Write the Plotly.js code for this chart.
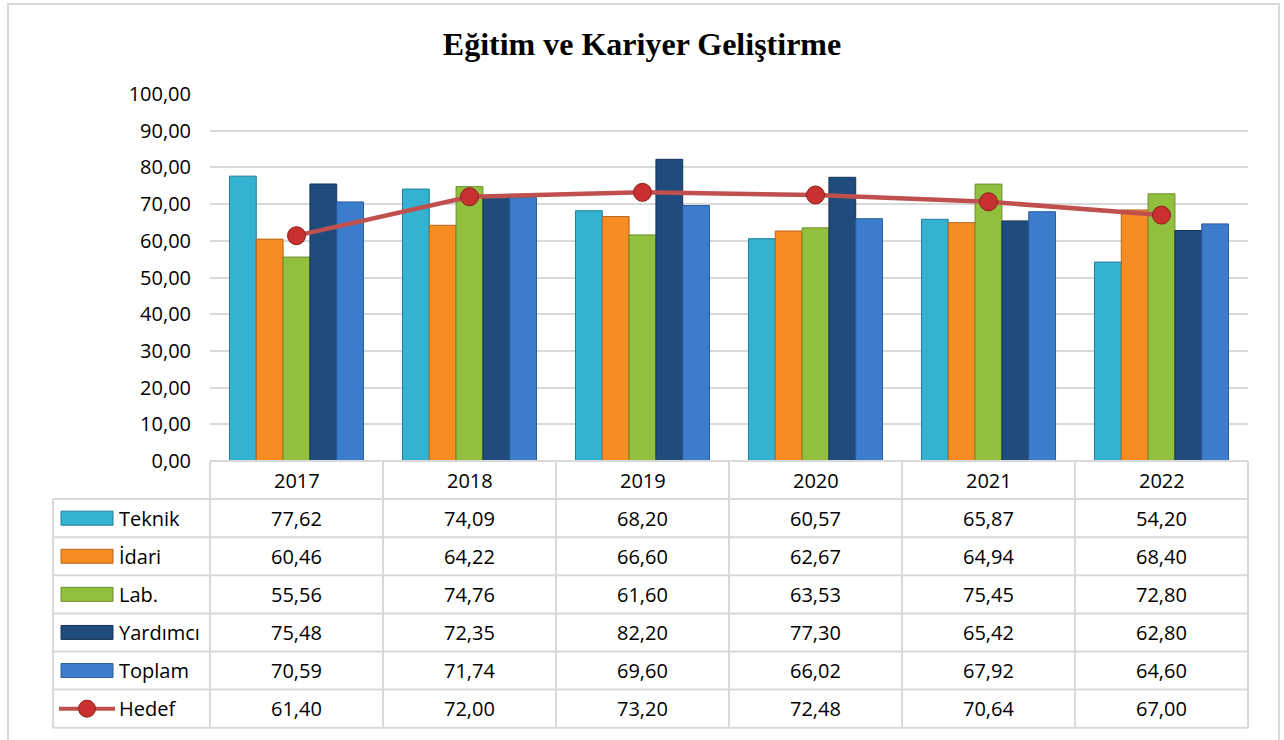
<!DOCTYPE html>
<html>
<head>
<meta charset="utf-8">
<script src="https://cdn.plot.ly/plotly-3.0.1.min.js"></script>
<style>
  body { margin: 0; background: #fff; }
  #chart { width: 1284px; height: 740px; }
</style>
</head>
<body>
<div id="chart"></div>
<script>
const years = ['2017', '2018', '2019', '2020', '2021', '2022']
const teknik = [77.62, 74.09, 68.20, 60.57, 65.87, 54.20]
const idari = [60.46, 64.22, 66.60, 62.67, 64.94, 68.40]
const lab = [55.56, 74.76, 61.60, 63.53, 75.45, 72.80]
const yardimci = [75.48, 72.35, 82.20, 77.30, 65.42, 62.80]
const toplam = [70.59, 71.74, 69.60, 66.02, 67.92, 64.60]
const hedef = [61.40, 72.00, 73.20, 72.48, 70.64, 67.00]

const barNames = ['Teknik', 'İdari', 'Lab.', 'Yardımcı', 'Toplam']
const barValues = [teknik, idari, lab, yardimci, toplam]
const barColors = ['#33B2D1', '#F68C22', '#93BF3F', '#1F4C7D', '#3B7DCC']
const barEdges = ['#1E7F99', '#B8651A', '#6A8E2A', '#15365A', '#2A5C99']
const lineName = 'Hedef'
const lineColor = '#C0504D'

// plot area in pixels, the table hangs below it in the bottom margin
const L = 210, T = 94, PW = 1038, PH = 367
const rowH = 38.1
const px = v => (v - L) / PW
const py = v => (T + PH - v) / PH
const rowTop = k => T + PH + k * rowH
const rowMid = k => rowTop(k) + rowH / 2
const fmt = v => v.toFixed(2).replace('.', ',')

const gridColor = '#D9D9D9'
const textFont = { family: 'Open Sans, sans-serif', size: 20, color: '#000' }

const data = barNames.map((name, i) => ({
  type: 'bar',
  name: name,
  x: years,
  y: barValues[i],
  marker: { color: barColors[i], line: { color: barEdges[i], width: 1 } }
}))
data.push({
  type: 'scatter',
  mode: 'lines+markers',
  name: lineName,
  x: years,
  y: hedef,
  line: { color: lineColor, width: 4.5 },
  marker: { size: 18, color: '#C8312F', line: { color: '#8A1E1E', width: 1 } }
})

const shapes = []
const annotations = []

// outer chart frame
shapes.push({ type: 'rect', xref: 'paper', yref: 'paper', x0: px(8), x1: px(1279), y0: py(4), y1: py(760),
  line: { color: gridColor, width: 2 } })

// table grid
const nRows = barNames.length + 1
shapes.push({ type: 'line', xref: 'paper', yref: 'paper', x0: 0, x1: 1, y0: py(rowTop(0)), y1: py(rowTop(0)),
  line: { color: gridColor, width: 2 } })
for (let k = 1; k <= nRows + 1; k++) {
  shapes.push({ type: 'line', xref: 'paper', yref: 'paper', x0: px(53), x1: 1, y0: py(rowTop(k)), y1: py(rowTop(k)),
    line: { color: gridColor, width: 2 } })
}
for (let c = 0; c <= years.length; c++) {
  shapes.push({ type: 'line', xref: 'paper', yref: 'paper', x0: c / years.length, x1: c / years.length,
    y0: py(rowTop(0)), y1: py(rowTop(nRows + 1)), line: { color: gridColor, width: 2 } })
}
shapes.push({ type: 'line', xref: 'paper', yref: 'paper', x0: px(53), x1: px(53),
  y0: py(rowTop(1)), y1: py(rowTop(nRows + 1)), line: { color: gridColor, width: 2 } })

// header row: years
years.forEach((yr, c) => {
  annotations.push({ xref: 'paper', yref: 'paper', x: (c + 0.5) / years.length, y: py(rowMid(0)),
    text: yr, showarrow: false, font: textFont, xanchor: 'center', yanchor: 'middle' })
})

// data rows with legend keys
const allNames = barNames.concat([lineName])
const allValues = barValues.concat([hedef])
allNames.forEach((name, r) => {
  const k = r + 1
  if (r < barNames.length) {
    shapes.push({ type: 'rect', xref: 'paper', yref: 'paper', x0: px(61), x1: px(113),
      y0: py(rowMid(k) - 7), y1: py(rowMid(k) + 7),
      fillcolor: barColors[r], line: { color: barEdges[r], width: 1 } })
  } else {
    shapes.push({ type: 'line', xref: 'paper', yref: 'paper', x0: px(59), x1: px(115),
      y0: py(rowMid(k)), y1: py(rowMid(k)), line: { color: lineColor, width: 4 } })
    shapes.push({ type: 'circle', xref: 'paper', yref: 'paper', x0: px(78.5), x1: px(95.5),
      y0: py(rowMid(k) - 8.5), y1: py(rowMid(k) + 8.5),
      fillcolor: '#C8312F', line: { color: '#8A1E1E', width: 1 } })
  }
  annotations.push({ xref: 'paper', yref: 'paper', x: px(117), y: py(rowMid(k)),
    text: name, showarrow: false, font: textFont, xanchor: 'left', yanchor: 'middle' })
  allValues[r].forEach((v, c) => {
    annotations.push({ xref: 'paper', yref: 'paper', x: (c + 0.5) / years.length, y: py(rowMid(k)),
      text: fmt(v), showarrow: false, font: textFont, xanchor: 'center', yanchor: 'middle' })
  })
})

const layout = {
  width: 1284,
  height: 740,
  margin: { l: L, r: 1284 - L - PW, t: T, b: 740 - T - PH },
  paper_bgcolor: '#fff',
  plot_bgcolor: '#fff',
  separators: ',.',
  showlegend: false,
  barmode: 'group',
  bargap: 0.225,
  bargroupgap: 0,
  title: {
    text: '<b>Eğitim ve Kariyer Geliştirme</b>',
    x: 0.5, xref: 'container', xanchor: 'center',
    y: 1 - 44 / 740, yref: 'container', yanchor: 'middle',
    font: { family: 'Liberation Serif, Times New Roman, serif', size: 32, color: '#000' }
  },
  xaxis: {
    type: 'category',
    range: [-0.5, 5.5],
    showticklabels: false,
    showgrid: false,
    zeroline: false,
    showline: false,
    ticks: ''
  },
  yaxis: {
    range: [0, 100],
    dtick: 10,
    tickformat: '.2f',
    showgrid: true,
    gridcolor: gridColor,
    gridwidth: 2,
    zeroline: false,
    showline: false,
    ticks: '',
    ticklabelstandoff: 18,
    tickfont: textFont
  },
  shapes: shapes,
  annotations: annotations
}

const config = { displayModeBar: false, staticPlot: true }

Plotly.newPlot('chart', data, layout, config)
</script>
</body>
</html>
